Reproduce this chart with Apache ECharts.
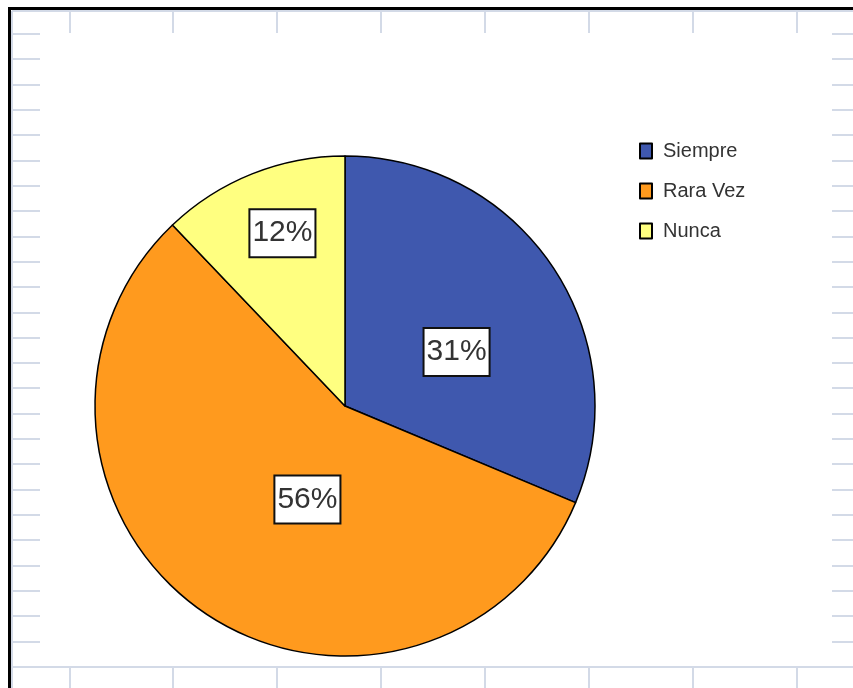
<!DOCTYPE html>
<html>
<head>
<meta charset="utf-8" />
<title>pie</title>
<script src="https://cdn.jsdelivr.net/npm/echarts@6/dist/echarts.min.js"></script>
<style>
  html, body { margin: 0; padding: 0; background: #fff; }
  #main { width: 853px; height: 688px; }
</style>
</head>
<body>
<div id="main"></div>
<script>
// datos
var categorias = ['Siempre', 'Rara Vez', 'Nunca'];
var valores = [31, 56, 12];
var colores = ['#3F58AE', '#FF9A1E', '#FFFF80'];

// rejilla de la hoja de calculo (decoracion de fondo)
var gridColor = '#D3DAE7';
var colsX = [70, 173, 277, 381, 485, 589, 693, 797];
var graphics = [];
function linea(x1, y1, x2, y2, color, w) {
  graphics.push({
    type: 'line', silent: true, z: -10,
    shape: { x1: x1, y1: y1, x2: x2, y2: y2 },
    style: { stroke: color, lineWidth: w }
  });
}
for (var i = 0; i < colsX.length; i++) {
  linea(colsX[i], 10, colsX[i], 33, gridColor, 2);
  linea(colsX[i], 667, colsX[i], 688, gridColor, 2);
}
for (var j = 0; j <= 25; j++) {
  var y = Math.round(34 + j * 25.32);
  linea(12, y, 40, y, gridColor, 2);
  linea(832, y, 853, y, gridColor, 2);
}
linea(12, 11, 853, 11, gridColor, 2);
linea(12, 11, 12, 688, gridColor, 2);
linea(12, 667, 853, 667, gridColor, 2);
// marco negro
linea(8, 8.5, 853, 8.5, '#000', 3);
linea(9.5, 7, 9.5, 688, '#000', 3);

// desplazamiento de etiquetas (como en Excel)
var labelShift = [[5, 17], [35, -12], [-15, -54]];

var myChart = echarts.init(document.getElementById('main'));
myChart.setOption({
  animation: false,
  color: colores,
  graphic: graphics,
  legend: {
    orient: 'vertical',
    left: 634,
    top: 136,
    itemWidth: 12,
    itemHeight: 15,
    itemGap: 20,
    icon: 'rect',
    textStyle: {
      fontFamily: 'Liberation Sans Narrow, Liberation Sans, Arial',
      fontSize: 20,
      color: '#333',
      padding: [0, 0, 0, 6]
    },
    data: categorias
  },
  series: [{
    type: 'pie',
    center: [345, 406],
    radius: 250,
    startAngle: 90,
    clockwise: true,
    itemStyle: { borderColor: '#000', borderWidth: 1.5 },
    label: {
      position: 'inside',
      formatter: '{c}%',
      fontFamily: 'Liberation Sans Narrow, Liberation Sans, Arial',
      fontSize: 30,
      color: '#333',
      backgroundColor: '#fff',
      borderColor: '#111',
      borderWidth: 2,
      padding: [9, 2, 7, 2]
    },
    labelLayout: function (params) {
      var s = labelShift[params.dataIndex];
      return { dx: s[0], dy: s[1] };
    },
    labelLine: { show: false },
    emphasis: { disabled: true },
    data: categorias.map(function (c, k) {
      return { name: c, value: valores[k] };
    })
  }]
});
</script>
</body>
</html>
